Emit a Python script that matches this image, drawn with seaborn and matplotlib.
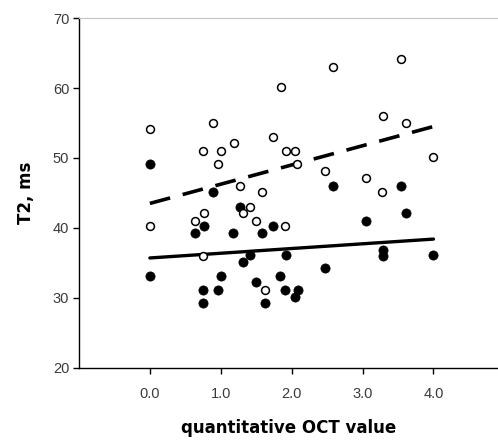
import numpy as np
import pandas as pd
import seaborn as sns
import matplotlib.pyplot as plt

# open circles (upper group)
open_x = [0.0, 0.89, 0.75, 1.0, 0.96, 1.18, 1.74, 1.85, 1.92, 2.04, 2.07, 2.58, 2.47, 3.05,
          3.29, 3.54, 3.61, 4.0, 3.27, 1.27, 1.58, 0.0, 0.64, 0.77, 1.41, 1.31, 1.50, 1.90,
          0.75, 1.63]
open_y = [54.1, 55.0, 51.0, 51.0, 49.2, 52.1, 53.0, 60.1, 51.0, 51.0, 49.2, 63.0, 48.1, 47.1,
          56.0, 64.1, 55.0, 50.1, 45.1, 46.0, 45.1, 40.2, 41.0, 42.2, 43.0, 42.2, 41.0, 40.2,
          36.0, 31.1]

# filled circles (lower group)
filled_x = [0.0, 0.89, 2.58, 3.54, 3.61, 3.05, 1.27, 0.64, 0.77, 1.17, 1.58, 1.74, 1.41, 1.31,
            1.92, 3.29, 3.29, 4.0, 2.47, 0.0, 1.0, 1.84, 0.75, 0.96, 1.50, 1.90, 2.09, 2.04,
            0.75, 1.63]
filled_y = [49.2, 45.1, 46.0, 46.0, 42.2, 41.0, 43.0, 39.2, 40.2, 39.2, 39.2, 40.2, 36.1, 35.1,
            36.1, 36.9, 36.0, 36.1, 34.2, 33.1, 33.1, 33.1, 31.1, 31.1, 32.3, 31.1, 31.1, 30.1,
            29.3, 29.3]

# trend lines
fit_x = [0.0, 4.0]
open_fit = [43.5, 54.5]
filled_fit = [35.7, 38.4]

sns.set_style("white")
plt.rcParams['font.family'] = ['Liberation Sans', 'DejaVu Sans']

fig = plt.figure(figsize=(4.98, 4.42), dpi=100)
ax = fig.add_axes([0.1586, 0.168, 0.8414, 0.791])

sns.lineplot(x=fit_x, y=open_fit, ax=ax, color='black', linewidth=2.6,
             dashes=False, linestyle=(0, (5.8, 3.6)))
sns.lineplot(x=fit_x, y=filled_fit, ax=ax, color='black', linewidth=2.4)

sns.scatterplot(x=filled_x, y=filled_y, ax=ax, s=44, color='black', edgecolor='black',
                linewidth=0.5, zorder=3)
sns.scatterplot(x=open_x, y=open_y, ax=ax, s=32, facecolor='white', edgecolor='black',
                linewidth=1.1, zorder=3)

ax.set_xlim(-1.0, 4.91)
ax.set_ylim(20, 70)
ax.set_xticks([0, 1, 2, 3, 4])
ax.set_xticklabels(['0.0', '1.0', '2.0', '3.0', '4.0'])
ax.set_yticks([20, 30, 40, 50, 60, 70])

for s in ['left', 'bottom']:
    ax.spines[s].set_color('black')
    ax.spines[s].set_linewidth(1.0)
ax.spines['right'].set_visible(False)
ax.spines['top'].set_color('#c4c4c4')
ax.spines['top'].set_linestyle((0, (1, 1)))
ax.spines['top'].set_linewidth(0.8)

ax.tick_params(axis='both', direction='out', length=4, width=1, color='black',
               labelsize=10.5, labelcolor='#3a3a3a', bottom=True, left=True, pad=3)
ax.tick_params(axis='x', pad=10)

ax.set_xlabel('quantitative OCT value', fontsize=12, fontweight='bold',
              family='DejaVu Sans', color='black', labelpad=13)
ax.set_ylabel('T2, ms', fontsize=12, fontweight='bold', family='DejaVu Sans',
              color='black', labelpad=13)

fig.savefig('out.png', dpi=100)
